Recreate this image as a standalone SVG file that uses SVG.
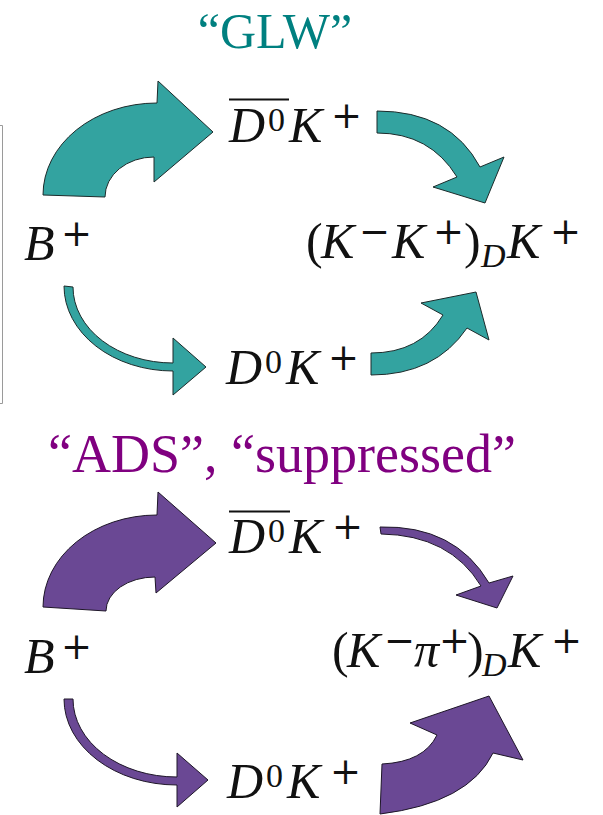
<svg xmlns="http://www.w3.org/2000/svg" width="603" height="815" viewBox="0 0 603 815">
<style>
.bg{fill:#ffffff}
.title{font-family:"Liberation Serif",serif}
.glw{fill:#008080;font-size:50px}
.ads{fill:#800080;font-size:54px}
.mi{font-family:"Liberation Serif",serif;font-style:italic;font-size:50px;fill:#111}
.rm{font-family:"Liberation Serif",serif;font-size:50px;fill:#111}
.sup{font-family:"Liberation Serif",serif;font-size:34px;fill:#111}
.sub{font-family:"Liberation Serif",serif;font-style:italic;font-size:34px;fill:#111}
.sg{font-family:"DejaVu Serif",serif;font-size:37px;fill:#111}
.bar{stroke:#111;stroke-width:2}
.teal{fill:#33a3a0;stroke:#1c2b2b;stroke-width:1;stroke-linejoin:miter}
.purple{fill:#6a4894;stroke:#1e1628;stroke-width:1;stroke-linejoin:miter}
.frame{fill:none;stroke:#9a9a9a;stroke-width:1}
</style>
<rect class="bg" x="0" y="0" width="603" height="815"/>
<path class="frame" d="M0,125.5 H2.5 V403.5 H0"/>

<g id="title-glw"><text class="title glw" x="275" y="48" text-anchor="middle">“GLW”</text></g>
<g id="title-ads"><text class="title ads" x="48" y="472">“ADS”, “suppressed”</text></g>

<!-- GLW section nodes -->
<g id="glw-B">
<text class="mi" x="24" y="260">B</text><text class="sg" x="61" y="246">+</text>
</g>
<g id="glw-D0bar">
<line class="bar" x1="229" y1="99.5" x2="289" y2="99.5"/>
<text class="mi" x="229" y="142">D</text><text class="sup" x="268" y="131">0</text>
<text class="mi" x="289" y="142">K</text><text class="sg" x="331" y="128">+</text>
</g>
<g id="glw-D0">
<text class="mi" x="226" y="384">D</text><text class="sup" x="265" y="373">0</text>
<text class="mi" x="286" y="384">K</text><text class="sg" x="328" y="370">+</text>
</g>
<g id="glw-final">
<text class="rm" x="306" y="258">(</text>
<text class="mi" x="321" y="258">K</text><text class="sg" x="359" y="244">−</text>
<text class="mi" x="392" y="258">K</text><text class="sg" x="433" y="244">+</text>
<text class="rm" x="464" y="258">)</text>
<text class="sub" x="481" y="267">D</text>
<text class="mi" x="507" y="258">K</text><text class="sg" x="550" y="244">+</text>
</g>

<!-- ADS section nodes -->
<g id="ads-B">
<text class="mi" x="24" y="673">B</text><text class="sg" x="61" y="659">+</text>
</g>
<g id="ads-D0bar">
<line class="bar" x1="229" y1="511.5" x2="290" y2="511.5"/>
<text class="mi" x="229" y="553">D</text><text class="sup" x="268" y="542">0</text>
<text class="mi" x="289" y="553">K</text><text class="sg" x="332" y="539">+</text>
</g>
<g id="ads-D0">
<text class="mi" x="227" y="798">D</text><text class="sup" x="266" y="787">0</text>
<text class="mi" x="287" y="798">K</text><text class="sg" x="330" y="784">+</text>
</g>
<g id="ads-final">
<text class="rm" x="332" y="667">(</text>
<text class="mi" x="347" y="667">K</text><text class="sg" x="384" y="653">−</text>
<text class="mi" x="414" y="667">π</text><text class="sg" x="439" y="653">+</text>
<text class="rm" x="467" y="667">)</text>
<text class="sub" x="482" y="676">D</text>
<text class="mi" x="508" y="667">K</text><text class="sg" x="551" y="653">+</text>
</g>

<g id="connectors">
<path id="glw-a1" class="teal" d="M43,195 A114,92 0 0 1 157,103 L158,81 L213,132 L154,182 L154,157 A49,40 0 0 0 105,197 Z"/>
<path id="glw-a2" class="teal" d="M377,111 Q450,111 480,167 L504,157 L485,203 L433,187 L457,177 Q430,133 377,133 Z"/>
<path id="glw-a3" class="teal" d="M64,286 A109,85 0 0 0 173,371 L173,395 L206,367 L173,338 L173,363 A100,76 0 0 1 73,287 Z"/>
<path id="glw-a4" class="teal" d="M371,353 Q420,353 443,315 L421,303 L476,292 L489,340 L467,328 Q435,375 371,375 Z"/>
<path id="ads-a1" class="purple" d="M43,607 A114,92 0 0 1 157,515 L158,492 L216,543 L156,593 L155,577 A49,34 0 0 0 106,611 Z"/>
<path id="ads-a2" class="purple" d="M380,527 Q455,525 489,583 L513,576 L497,608 L456,595 L481,586 Q450,535 381,534 Z"/>
<path id="ads-a3" class="purple" d="M64,699 A113,86 0 0 0 177,785 L177,807 L208,780 L177,753 L177,777 A104,78 0 0 1 73,699 Z"/>
<path id="ads-a4" class="purple" d="M382,764 Q424,762 437,735 L410,723 L489,696 L523,760 L493,753 Q469,803 380,814 Z"/>
</g>
</svg>
